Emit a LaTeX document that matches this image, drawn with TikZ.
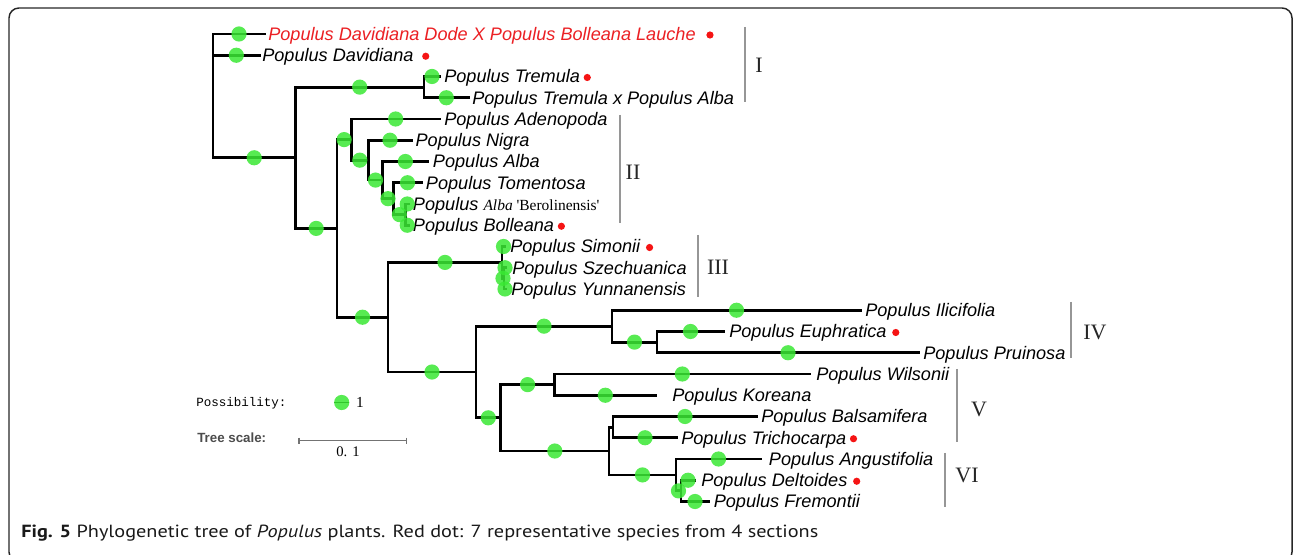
\documentclass[tikz,border=0pt]{standalone}
\usepackage{fontspec}
\usepackage{graphicx}
\setmainfont{Liberation Sans}
\newfontfamily\romfont{Liberation Serif}
\newfontfamily\legmono{Liberation Mono}
\newfontfamily\capfont{PT Sans}
\usetikzlibrary{calc}
\definecolor{dotgreen}{RGB}{58,232,52}
\definecolor{dotred}{RGB}{245,20,20}
\definecolor{txtred}{RGB}{235,32,36}
\definecolor{bargray}{RGB}{150,150,150}
\newcommand\mkleaf[6][]{%
  \coordinate (#2-t) at (#3,#5);
  \node[leaf,#1] (#2) at (#4,#5+6.5) {#6};}
\newcommand\mkdot[2]{%
  \node[rdot] (#1-dot) at ($(#1.base east)+(#2,-5.5)$) {};}
\begin{document}
\begin{tikzpicture}[x=0.75pt,y=-0.75pt,
  branch/.style={line width=2.1pt, black, line cap=rect, line join=miter},
  gdot/.style={circle, fill=dotgreen, fill opacity=0.85, draw=none, minimum size=11.4pt, inner sep=0pt},
  rdot/.style={circle, fill=dotred, draw=none, minimum size=5.4pt, inner sep=0pt},
  leaf/.style={anchor=base west, inner sep=0pt, font=\fontsize{13.6}{16}\selectfont\itshape},
  clab/.style={font=\romfont\fontsize{16.5}{18}\selectfont, text=black!85, inner sep=0pt},
  cbar/.style={bargray, line width=1.1pt},
]
\useasboundingbox (0,0) rectangle (1295,555);
\draw[line width=1.1pt, black!85, rounded corners=7.5pt] (9,8) rectangle (1292,562);

% leaves
\mkleaf[text=txtred]{dode}{265}{268}{34}{Populus Davidiana Dode X Populus Bolleana Lauche}
\mkleaf{davi}{259.6}{262}{55.25}{Populus Davidiana}
\mkleaf{trem}{440}{444}{76.5}{Populus Tremula}
\mkleaf{tra}{468.6}{472}{97.75}{Populus Tremula x Populus Alba}
\mkleaf{aden}{440}{444}{119}{Populus Adenopoda}
\mkleaf{nigr}{411.7}{415.3}{140.25}{Populus Nigra}
\mkleaf{alba}{428}{432.7}{161.5}{Populus Alba}
\mkleaf{tome}{421.7}{425.7}{182.75}{Populus Tomentosa}
\mkleaf{bero}{409}{412.7}{204}{Populus {\romfont\fontsize{11.6}{14}\selectfont Alba \upshape\textquotesingle Berolinensis\textquotesingle}}
\mkleaf{boll}{409}{412.7}{225.25}{Populus Bolleana}
\mkleaf{simo}{505}{510}{246.5}{Populus Simonii}
\mkleaf{szec}{506}{512}{267.75}{Populus Szechuanica}
\mkleaf{yunn}{506}{511}{289}{Populus Yunnanensis}
\mkleaf{ilic}{861}{865}{310.25}{Populus Ilicifolia}
\mkleaf{euph}{724}{729}{331.5}{Populus Euphratica}
\mkleaf{prui}{919}{923}{352.75}{Populus Pruinosa}
\mkleaf{wils}{810}{816}{374}{Populus Wilsonii}
\mkleaf{kore}{656}{672}{395.25}{Populus Koreana}
\mkleaf{bals}{757}{761}{416.5}{Populus Balsamifera}
\mkleaf{tric}{677}{681}{437.75}{Populus Trichocarpa}
\mkleaf{angu}{761}{768.7}{459}{Populus Angustifolia}
\mkleaf{delt}{695}{701}{480.25}{Populus Deltoides}
\mkleaf{frem}{709}{713.5}{501.5}{Populus Fremontii}

\mkdot{dode}{14}
\mkdot{davi}{12}
\mkdot{trem}{7}
\mkdot{boll}{7}
\mkdot{simo}{9}
\mkdot{euph}{9}
\mkdot{tric}{7}
\mkdot{delt}{9}

% internal nodes
\coordinate (R) at (213,95.88);
\coordinate (A) at (295.4,157.77);
\coordinate (T) at (424,87.125);
\coordinate (B) at (337,228.41);
\coordinate (C) at (351.3,139.59);
\coordinate (D) at (368.3,160.17);
\coordinate (E) at (382.7,180.09);
\coordinate (F) at (393.3,198.69);
\coordinate (G) at (405.5,214.625);
\coordinate (H) at (388,317.22);
\coordinate (S) at (502,262.44);
\coordinate (S2) at (504,278.375);
\coordinate (K) at (476,372.01);
\coordinate (L) at (612,326.19);
\coordinate (M) at (657,342.125);
\coordinate (P) at (500.6,417.83);
\coordinate (Q) at (554.6,384.625);
\coordinate (U) at (609,451.03);
\coordinate (V) at (613,427.125);
\coordinate (W) at (676,474.94);
\coordinate (X) at (681,490.875);

\foreach \p/\c in {R/dode-t,R/davi-t,R/A,A/T,T/trem-t,T/tra-t,A/B,B/C,C/aden-t,C/D,D/nigr-t,D/E,E/alba-t,E/F,F/tome-t,F/G,G/bero-t,G/boll-t,B/H,H/S,S/simo-t,S/S2,S2/szec-t,S2/yunn-t,H/K,K/L,L/ilic-t,L/M,M/euph-t,M/prui-t,K/P,P/Q,Q/wils-t,Q/kore-t,P/U,U/V,V/bals-t,V/tric-t,U/W,W/angu-t,W/X,X/delt-t,X/frem-t}
  \draw[branch] (\p) |- (\c);
\foreach \p/\c in {R/dode-t,R/davi-t,R/A,A/T,T/trem-t,T/tra-t,A/B,B/C,C/aden-t,C/D,D/nigr-t,D/E,E/alba-t,E/F,F/tome-t,F/G,G/bero-t,G/boll-t,B/H,H/S,S/simo-t,S/S2,S2/szec-t,S2/yunn-t,H/K,K/L,L/ilic-t,L/M,M/euph-t,M/prui-t,K/P,P/Q,Q/wils-t,Q/kore-t,P/U,V/bals-t,V/tric-t,U/W,W/angu-t,W/X,X/delt-t,X/frem-t}
  \path (\p) |- (\c) node[gdot,pos=0.75] (g-\c) {};

% clade bars and labels
\draw[cbar] (745,27) -- (745,102);
\node[clab] (cI) at (759,65) {I};
\draw[cbar] (620,115) -- (620,223);
\node[clab] (cII) at (633,172) {II};
\draw[cbar] (698,235) -- (698,297);
\node[clab] (cIII) at (718,267) {III};
\draw[cbar] (1071,302) -- (1071,358);
\node[clab] (cIV) at (1095,332) {IV};
\draw[cbar] (957,369) -- (957,442);
\node[clab] (cV) at (979,409) {V};
\draw[cbar] (945,453) -- (945,507);
\node[clab] (cVI) at (967,475) {VI};

% legend
\node[font=\legmono\fontsize{9.4}{11}\selectfont, anchor=west, inner sep=0pt] (poss) at (196,403) {Possibility:};
\coordinate (lgl) at (334,402.5);
\coordinate (lgr) at (349,402.5);
\draw[line width=1.4pt] (lgl) -- (lgr);
\node[gdot] (lgdot) at (341.7,402.5) {};
\node[font=\romfont\fontsize{11.5}{12}\selectfont, inner sep=0pt] (one) at (360,402) {1};
\node[font=\bfseries\fontsize{10}{12}\selectfont, text=black!70, anchor=west, inner sep=0pt] (ts) at (197,438) {Tree scale:};
\coordinate (sb1) at (299,440.7);
\coordinate (sb2) at (406.7,440.7);
\draw[black!55, line width=0.8pt] (sb1) -- (sb2);
\draw[black!55, line width=0.8pt] ($(sb1)+(0,-3)$) -- ($(sb1)+(0,3)$);
\draw[black!55, line width=0.8pt] ($(sb2)+(0,-3)$) -- ($(sb2)+(0,3)$);
\node[font=\romfont\fontsize{11}{12}\selectfont, inner sep=0pt] (sv) at (348,452) {0. 1};

% caption
\node[anchor=west, inner sep=0pt, text=black!90] (cap) at (21,533) {\resizebox{597.75pt}{\height}{\capfont\fontsize{13.2}{15}\selectfont\textbf{Fig. 5} Phylogenetic tree of \textit{Populus} plants. Red dot: 7 representative species from 4 sections}};
\end{tikzpicture}
\end{document}
